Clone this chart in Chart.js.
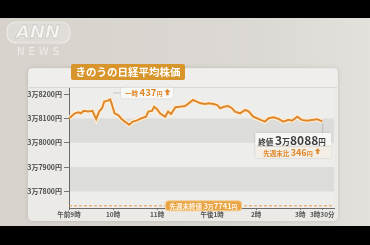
<!DOCTYPE html>
<html><head><meta charset="utf-8">
<script src="https://cdn.jsdelivr.net/npm/chart.js@4/dist/chart.umd.min.js"></script>
<style>html,body{margin:0;padding:0;background:#000;}canvas{display:block;}</style>
</head><body>
<canvas id="c" width="370" height="245"></canvas>
<script>
// Trading minutes from 9:00 (afternoon session compressed: 12:30 -> 165)
const times = [0,8,13,16,20,26,32,37,41,45,48,53,56,58,62,67,72,76,82,87,92,99,105,108,113,116,120,124,131,135,139,145,151,158,163,169,174,179,186,190,197,202,206,211,217,222,226,233,240,245,251,261,267,272,279,286,292,299,304,311,317,324,331,338,345];
const prices = [38100,38121,38125,38121,38131,38128,38131,38097,38128,38142,38169,38173,38178,38162,38121,38114,38097,38087,38074,38087,38091,38101,38107,38128,38131,38148,38138,38121,38107,38128,38118,38146,38148,38151,38162,38176,38169,38162,38159,38162,38159,38155,38142,38148,38151,38142,38128,38121,38135,38128,38107,38094,38087,38101,38105,38097,38087,38094,38091,38107,38094,38091,38094,38097,38088];
const yTicks = [37800,37900,38000,38100,38200];
const xTickValues = [0,60,120,195,255,315,345];
const xTickLabels = ['午前9時','10時','11時','午後1時','2時','3時','3時30分'];
const prevClose = 37741;
const closeValue = 38088;
const changeValue = 346;
const peakChange = 437;
const titleText = 'きのうの日経平均株価';

const FONT = '"Noto Sans CJK JP","Noto Sans",sans-serif';
const ORANGE = '#e0862a';

function roundRect(ctx,x,y,w,h,r){ctx.beginPath();ctx.moveTo(x+r,y);ctx.lineTo(x+w-r,y);ctx.quadraticCurveTo(x+w,y,x+w,y+r);ctx.lineTo(x+w,y+h-r);ctx.quadraticCurveTo(x+w,y+h,x+w-r,y+h);ctx.lineTo(x+r,y+h);ctx.quadraticCurveTo(x,y+h,x,y+h-r);ctx.lineTo(x,y+r);ctx.quadraticCurveTo(x,y,x+r,y);ctx.closePath();}
function runsWidth(ctx,runs){let w=0;for(const r of runs){ctx.font=(r.bold?'bold ':'')+r.size+'px '+FONT;w+=ctx.measureText(r.t).width;}return w;}
function drawRuns(ctx,runs,x,y){ctx.textBaseline='alphabetic';ctx.textAlign='left';let cx=x;for(const r of runs){ctx.font=(r.bold?'bold ':'')+r.size+'px '+FONT;ctx.fillStyle=r.color;ctx.fillText(r.t,cx,y);cx+=ctx.measureText(r.t).width;}return cx;}
function upArrow(ctx,x,y,s,color){ctx.fillStyle=color;ctx.beginPath();ctx.moveTo(x,y-s);ctx.lineTo(x+s*0.75,y-s*0.25);ctx.lineTo(x+s*0.3,y-s*0.25);ctx.lineTo(x+s*0.3,y+s*0.55);ctx.lineTo(x-s*0.3,y+s*0.55);ctx.lineTo(x-s*0.3,y-s*0.25);ctx.lineTo(x-s*0.75,y-s*0.25);ctx.closePath();ctx.fill();}

const bgPlugin = {
  id:'bg',
  beforeDraw(chart){
    const ctx=chart.ctx, ca=chart.chartArea, ys=chart.scales.y;
    ctx.save();
    // outer background
    const g=ctx.createLinearGradient(0,0,370,0);
    g.addColorStop(0,'#d7d2cc');g.addColorStop(0.7,'#dcd8d3');g.addColorStop(1,'#e4e1dd');
    ctx.fillStyle=g;ctx.fillRect(0,0,370,245);
    // black bars
    ctx.fillStyle='#000';ctx.fillRect(0,0,370,18);ctx.fillRect(0,226,370,19);
    // logo
    ctx.fillStyle='rgba(255,255,255,0.22)';roundRect(ctx,7,22,63,21,10);ctx.fill();
    ctx.strokeStyle='rgba(255,255,255,0.45)';ctx.lineWidth=1.2;ctx.stroke();
    ctx.font='italic bold 18px "DejaVu Sans",sans-serif';ctx.textAlign='center';ctx.textBaseline='middle';
    ctx.fillStyle='rgba(255,255,255,0.7)';ctx.fillText('ANN',38,33);
    ctx.strokeStyle='rgba(160,155,150,0.35)';ctx.lineWidth=0.8;ctx.strokeText('ANN',38,33);
    ctx.font='10px "DejaVu Sans",sans-serif';ctx.letterSpacing='4px';ctx.fillStyle='rgba(255,255,255,0.6)';
    ctx.fillText('NEWS',40,52);ctx.letterSpacing='0px';
    // panel
    ctx.shadowColor='rgba(0,0,0,0.12)';ctx.shadowBlur=4;
    ctx.fillStyle='#ebeae7';roundRect(ctx,28,68,310,153,5);ctx.fill();
    ctx.shadowBlur=0;ctx.shadowColor='transparent';
    ctx.fillStyle='#efeeec';ctx.fillRect(29,69,308,18);
    ctx.strokeStyle='#d9d8d5';ctx.lineWidth=1;ctx.beginPath();ctx.moveTo(29,87.5);ctx.lineTo(337,87.5);ctx.stroke();
    // plot bands
    ctx.fillStyle='#ededeb';ctx.fillRect(ca.left,ca.top,ca.right-ca.left,ca.bottom-ca.top);
    ctx.fillStyle='#dcdcda';
    for(let i=0;i<yTicks.length-1;i++){
      if(i%2===0){const a=ys.getPixelForValue(yTicks[i]),b=ys.getPixelForValue(yTicks[i+1]);ctx.fillRect(ca.left,b,ca.right-ca.left,a-b);}
    }
    // title
    ctx.fillStyle='#d8952c';roundRect(ctx,71,64,114,16,2);ctx.fill();
    ctx.font='bold 10.5px '+FONT;ctx.fillStyle='#fff';ctx.textAlign='center';ctx.textBaseline='middle';
    ctx.fillText(titleText,128,72.5);
    ctx.restore();
  },
  afterDatasetsDraw(chart){
    const ctx=chart.ctx, xs=chart.scales.x, ys=chart.scales.y;
    ctx.save();
    // previous close pill
    const mid=(xs.min+xs.max)/2;
    const pcx=xs.getPixelForValue(mid)+2, pcy=ys.getPixelForValue(prevClose);
    const pr=[{t:'先週末終値 ',size:6.5,color:'#fff6e6',bold:true},{t:'3',size:7.5,color:'#fff6e6',bold:true},{t:'万',size:6,color:'#fff6e6',bold:true},{t:String(prevClose-30000),size:7.5,color:'#fff6e6',bold:true},{t:'円',size:6,color:'#fff6e6',bold:true}];
    const pw=runsWidth(ctx,pr)+8;
    ctx.fillStyle='#e9a445';ctx.strokeStyle='#f5cf92';ctx.lineWidth=1;
    roundRect(ctx,pcx-pw/2,pcy-5,pw,10,3);ctx.fill();ctx.stroke();
    drawRuns(ctx,pr,pcx-pw/2+4,pcy+2.8);
    // peak label
    let pi=0;for(let i=1;i<prices.length;i++)if(prices[i]>prices[pi])pi=i;
    const px=xs.getPixelForValue(times[pi]), py=ys.getPixelForValue(prices[pi]);
    const bx=px+11, by=py-12, bw=52, bh=11;
    ctx.strokeStyle='#c9c7c3';ctx.lineWidth=1;ctx.beginPath();ctx.moveTo(px+3,by+bh/2);ctx.lineTo(bx,by+bh/2);ctx.stroke();
    ctx.fillStyle='rgba(250,250,248,0.95)';ctx.shadowColor='rgba(0,0,0,0.15)';ctx.shadowBlur=2;
    roundRect(ctx,bx,by,bw,bh,1.5);ctx.fill();ctx.shadowBlur=0;ctx.shadowColor='transparent';
    const e1=drawRuns(ctx,[{t:'一時 ',size:6.5,color:ORANGE,bold:true},{t:String(peakChange),size:9.5,color:ORANGE,bold:true},{t:'円',size:6,color:ORANGE,bold:true}],bx+4,by+bh-2);
    upArrow(ctx,e1+5,by+bh/2,4,ORANGE);
    // close label
    const lx=xs.getPixelForValue(times[times.length-1]), ly=ys.getPixelForValue(prices[prices.length-1]);
    const cbx=lx-67, cby=133, cbw=76;
    ctx.strokeStyle='#bdbbb7';ctx.lineWidth=1;ctx.beginPath();ctx.moveTo(lx+0.5,ly+2);ctx.lineTo(lx+0.5,cby);ctx.stroke();
    ctx.shadowColor='rgba(0,0,0,0.15)';ctx.shadowBlur=2;
    ctx.fillStyle='#f7f7f5';ctx.fillRect(cbx,cby,cbw,13);
    ctx.fillStyle='#f4efe6';ctx.fillRect(cbx,cby+13,cbw,12);
    ctx.shadowBlur=0;ctx.shadowColor='transparent';
    ctx.strokeStyle='#dedad3';ctx.beginPath();ctx.moveTo(cbx+2,cby+13.5);ctx.lineTo(cbx+cbw-2,cby+13.5);ctx.stroke();
    const cs=String(closeValue-30000);
    drawRuns(ctx,[{t:'終値 ',size:7.5,color:'#3a3a3a',bold:true},{t:'3',size:12,color:'#3d3d3d',bold:true},{t:'万',size:8,color:'#3d3d3d',bold:true},{t:cs,size:12,color:'#3d3d3d',bold:true},{t:'円',size:7.5,color:'#3d3d3d',bold:true}],cbx+3,cby+11.5);
    const e2=drawRuns(ctx,[{t:'先週末比 ',size:6.5,color:ORANGE,bold:true},{t:String(changeValue),size:9,color:ORANGE,bold:true},{t:'円',size:6,color:ORANGE,bold:true}],cbx+8,cby+23);
    upArrow(ctx,e2+5,cby+19,3.8,ORANGE);
    ctx.restore();
  }
};

const lineData = times.map((t,i)=>({x:t,y:prices[i]}));
new Chart(document.getElementById('c'),{
  type:'line',
  data:{datasets:[
    {data:[{x:0,y:prevClose},{x:361,y:prevClose}],borderColor:'#e69c4c',borderWidth:1,borderDash:[3,2],pointRadius:0,order:3},
    {data:lineData,borderColor:'rgba(255,238,212,0.95)',borderWidth:4.5,pointRadius:0,tension:0,order:2},
    {data:lineData,borderColor:ORANGE,borderWidth:2,pointRadius:0,tension:0,order:1}
  ]},
  options:{
    responsive:false,animation:false,
    layout:{padding:{left:0,top:88,right:36,bottom:0}},
    plugins:{legend:{display:false},tooltip:{enabled:false}},
    scales:{
      x:{type:'linear',min:0,max:361,
        afterBuildTicks:s=>{s.ticks=xTickValues.map(v=>({value:v}));},
        afterFit:s=>{s.height=37;},
        ticks:{autoSkip:false,maxRotation:0,padding:1,font:{size:6.5,family:FONT,weight:'bold'},color:'#555',
          callback:(v,i)=>xTickLabels[i]},
        grid:{display:true,drawOnChartArea:false,drawTicks:true,tickLength:2,color:'#777'},
        border:{display:true,color:'#6a6a6a',width:1}},
      y:{min:37732,max:38225,
        afterBuildTicks:s=>{s.ticks=yTicks.map(v=>({value:v}));},
        afterFit:s=>{s.width=69;},
        ticks:{padding:2,font:{size:7,family:FONT,weight:'bold'},color:'#4a4a4a',
          callback:v=>'3万'+(v-30000)+'円'},
        grid:{display:true,drawOnChartArea:false,drawTicks:true,tickLength:5,color:'#777'},
        border:{display:true,color:'#6a6a6a',width:1}}
    }
  },
  plugins:[bgPlugin]
});
</script>
</body></html>
